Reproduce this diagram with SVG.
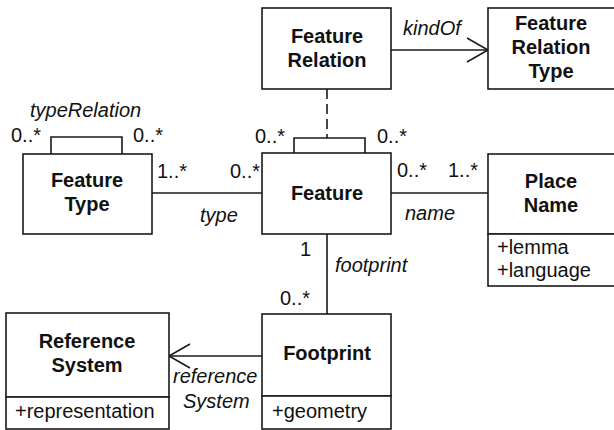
<svg xmlns="http://www.w3.org/2000/svg" width="614" height="430" viewBox="0 0 614 430">
<style>
.box{fill:#fff;stroke:#1a1a1a;stroke-width:1.6}
.ln{fill:none;stroke:#1a1a1a;stroke-width:1.6}
text{font-family:"Liberation Sans",Arial,sans-serif;font-size:20px;fill:#111}
.b{font-weight:bold;text-anchor:middle}
.i{font-style:italic}
</style>
<rect width="614" height="430" fill="#fff"/>
<g id="connectors">
<line class="ln" x1="391" y1="50" x2="487" y2="50"/>
<polyline class="ln" points="467,38 488,50 467,62"/>
<line class="ln" x1="327" y1="89" x2="327" y2="138" stroke-dasharray="10,5"/>
<polyline class="ln" points="294,153 294,138 365,138 365,153"/>
<polyline class="ln" points="51,154 51,137 122,137 122,154"/>
<line class="ln" x1="152" y1="193" x2="262" y2="193"/>
<line class="ln" x1="391" y1="193" x2="488" y2="193"/>
<line class="ln" x1="327" y1="234" x2="327" y2="314"/>
<line class="ln" x1="170" y1="356" x2="262" y2="356"/>
<polyline class="ln" points="190,344 169,356 190,368"/>
</g>
<g id="labels">
<text class="i" x="30" y="117">typeRelation</text>
<text x="11" y="142">0..*</text>
<text x="133" y="142">0..*</text>
<text x="157" y="178">1..*</text>
<text x="230" y="178">0..*</text>
<text x="255" y="143">0..*</text>
<text x="377" y="143">0..*</text>
<text x="397" y="177">0..*</text>
<text x="448" y="177">1..*</text>
<text class="i" x="200" y="222">type</text>
<text class="i" x="405" y="220">name</text>
<text class="i" x="403" y="35">kindOf</text>
<text x="300" y="256">1</text>
<text x="280" y="305">0..*</text>
<text class="i" x="335" y="272">footprint</text>
<text class="i" x="173" y="383">reference</text>
<text class="i" x="183" y="408">System</text>
</g>
<g id="featureRelation">
<rect class="box" x="262" y="8" width="129" height="81"/>
<text class="b" x="327" y="43">Feature</text>
<text class="b" x="327" y="67">Relation</text>
</g>
<g id="featureRelationType">
<rect class="box" x="488" y="8" width="130" height="81"/>
<text class="b" x="551" y="30">Feature</text>
<text class="b" x="551" y="54">Relation</text>
<text class="b" x="551" y="78">Type</text>
</g>
<g id="featureType">
<rect class="box" x="23" y="154" width="129" height="80"/>
<text class="b" x="87" y="187">Feature</text>
<text class="b" x="87" y="211">Type</text>
</g>
<g id="feature">
<rect class="box" x="262" y="153" width="129" height="81"/>
<text class="b" x="327" y="200">Feature</text>
</g>
<g id="placeName">
<rect class="box" x="488" y="154" width="130" height="80"/>
<rect class="box" x="488" y="234" width="130" height="52"/>
<text class="b" x="551" y="188">Place</text>
<text class="b" x="551" y="212">Name</text>
<text x="497" y="254">+lemma</text>
<text x="497" y="277">+language</text>
</g>
<g id="footprint">
<rect class="box" x="262" y="314" width="129" height="82"/>
<rect class="box" x="262" y="396" width="129" height="33"/>
<text class="b" x="327" y="360">Footprint</text>
<text x="272" y="418">+geometry</text>
</g>
<g id="referenceSystem">
<rect class="box" x="6" y="313" width="163" height="84"/>
<rect class="box" x="6" y="397" width="163" height="32"/>
<text class="b" x="87" y="348">Reference</text>
<text class="b" x="87" y="372">System</text>
<text x="15" y="418">+representation</text>
</g>
</svg>
